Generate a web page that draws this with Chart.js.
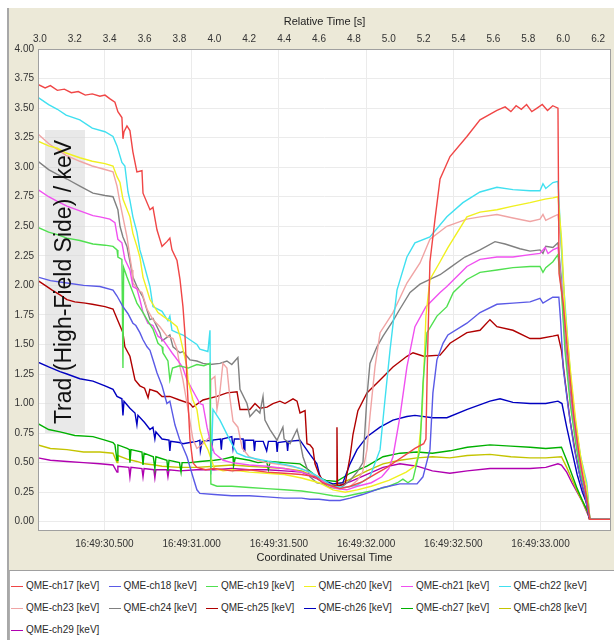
<!DOCTYPE html>
<html>
<head>
<meta charset="utf-8">
<script src="https://cdn.jsdelivr.net/npm/chart.js@4.4.1/dist/chart.umd.min.js"></script>
<style>
body { margin: 0; background: #fff; width: 614px; height: 640px; overflow: hidden; font-family: "Liberation Sans", Arial, sans-serif; }
#panel { position: absolute; left: 7px; top: 8px; width: 607px; height: 632px; background: #ece9d8; border-left: 2px solid #a8a8a8; box-sizing: border-box; }
#chart { position: absolute; left: 9px; top: 8px; }
#legend { position: absolute; left: 9px; top: 570px; width: 605px; height: 70px; background: #fff; border-top: 1px solid #a0a0a0; border-left: 1px solid #b0b0b0; box-sizing: border-box; }
.item { position: absolute; font-size: 10px; color: #2a2a2a; white-space: nowrap; line-height: 14px; }
.item i { display: inline-block; width: 12px; height: 0; border-top: 1px solid; vertical-align: middle; margin-right: 3px; }
</style>
</head>
<body>
<div id="panel"></div>
<canvas id="chart" width="605" height="560"></canvas>
<div id="legend"></div>
<script>
// axes
const relTicks = [3.0, 3.2, 3.4, 3.6, 3.8, 4.0, 4.2, 4.4, 4.6, 4.8, 5.0, 5.2, 5.4, 5.6, 5.8, 6.0, 6.2];
const utcSeconds = [30.5, 31.0, 31.5, 32.0, 32.5, 33.0];
const utcPrefix = '16:49:';
const UTC_OFFSET = 27.13; // UTC seconds = relative time + offset
const yTicks = [0, 0.25, 0.5, 0.75, 1, 1.25, 1.5, 1.75, 2, 2.25, 2.5, 2.75, 3, 3.25, 3.5, 3.75, 4];
const X_MIN = 2.989, X_MAX = 6.274;

const seriesNames = ['QME-ch17 [keV]', 'QME-ch18 [keV]', 'QME-ch19 [keV]', 'QME-ch20 [keV]', 'QME-ch21 [keV]', 'QME-ch22 [keV]',
  'QME-ch23 [keV]', 'QME-ch24 [keV]', 'QME-ch25 [keV]', 'QME-ch26 [keV]', 'QME-ch27 [keV]', 'QME-ch28 [keV]', 'QME-ch29 [keV]'];
const seriesColors = ['#f04646', '#5a5ae6', '#50e050', '#f0f020', '#f050f0', '#40e0f0',
  '#f0a4a4', '#808080', '#b00000', '#0000c0', '#00b000', '#c4c400', '#b000b0'];

// [relative time s, Trad keV]
const ch17 = [[2.989,3.70],[3.03,3.67],[3.06,3.69],[3.10,3.65],[3.14,3.66],[3.18,3.63],[3.22,3.64],[3.26,3.61],[3.30,3.62],[3.344,3.60],[3.373,3.61],[3.40,3.58],[3.43,3.55],[3.447,3.47],[3.47,3.42],[3.476,3.24],[3.482,3.30],[3.499,3.35],[3.516,3.31],[3.533,3.13],[3.556,2.96],[3.585,2.97],[3.591,2.78],[3.631,2.64],[3.648,2.66],[3.671,2.47],[3.70,2.33],[3.728,2.37],[3.745,2.40],[3.757,2.30],[3.786,2.21],[3.803,2.05],[3.82,1.82],[3.831,1.60],[3.843,1.20],[3.86,0.70],[3.877,0.50],[3.90,0.46],[3.95,0.44],[4.00,0.45],[4.10,0.43],[4.20,0.44],[4.30,0.42],[4.40,0.41],[4.50,0.40],[4.58,0.38],[4.62,0.33],[4.68,0.30],[4.72,0.28],[4.78,0.30],[4.85,0.34],[4.92,0.40],[4.99,0.46],[5.05,0.52],[5.10,0.57],[5.15,0.62],[5.20,0.66],[5.213,0.70],[5.222,1.40],[5.236,2.20],[5.265,2.56],[5.294,2.90],[5.351,3.09],[5.448,3.26],[5.523,3.40],[5.620,3.48],[5.667,3.51],[5.70,3.47],[5.73,3.52],[5.76,3.49],[5.79,3.53],[5.82,3.47],[5.85,3.50],[5.88,3.53],[5.91,3.48],[5.94,3.52],[5.97,3.50],[5.976,2.10],[6.00,1.85],[6.03,1.35],[6.06,0.90],[6.09,0.58],[6.12,0.32],[6.14,0.15],[6.153,0.02],[6.274,0.02]];
const ch18 = [[2.989,2.07],[3.06,2.04],[3.155,2.02],[3.25,2.00],[3.344,1.99],[3.419,1.96],[3.442,1.91],[3.476,1.82],[3.505,1.76],[3.533,1.68],[3.55,1.66],[3.573,1.60],[3.591,1.54],[3.614,1.48],[3.631,1.45],[3.648,1.37],[3.671,1.26],[3.70,1.15],[3.728,1.00],[3.745,1.02],[3.774,0.82],[3.80,0.70],[3.843,0.55],[3.877,0.38],[3.90,0.27],[3.917,0.24],[4.00,0.23],[4.10,0.22],[4.20,0.22],[4.30,0.21],[4.40,0.20],[4.50,0.20],[4.548,0.19],[4.60,0.19],[4.66,0.18],[4.72,0.18],[4.778,0.20],[4.85,0.23],[4.967,0.29],[5.064,0.32],[5.162,0.32],[5.196,0.38],[5.236,0.61],[5.253,1.09],[5.276,1.37],[5.311,1.51],[5.339,1.58],[5.448,1.68],[5.523,1.77],[5.62,1.84],[5.712,1.85],[5.81,1.86],[5.867,1.89],[5.884,1.85],[5.94,1.90],[5.975,1.90],[5.985,1.70],[6.00,1.30],[6.03,0.95],[6.06,0.65],[6.09,0.42],[6.125,0.22],[6.147,0.05],[6.153,0.02],[6.274,0.02]];
const ch19 = [[2.989,2.49],[3.05,2.45],[3.10,2.43],[3.155,2.40],[3.229,2.38],[3.304,2.35],[3.373,2.34],[3.419,2.33],[3.442,2.30],[3.447,2.24],[3.47,2.22],[3.476,1.30],[3.48,2.15],[3.499,2.07],[3.533,1.94],[3.556,1.85],[3.591,1.77],[3.614,1.71],[3.648,1.63],[3.677,1.51],[3.70,1.48],[3.705,1.43],[3.734,1.36],[3.745,1.20],[3.76,1.30],[3.80,1.32],[3.85,1.30],[3.90,1.33],[3.94,1.32],[3.975,1.34],[3.98,0.32],[4.015,0.30],[4.10,0.30],[4.20,0.29],[4.30,0.28],[4.40,0.27],[4.50,0.26],[4.60,0.24],[4.68,0.22],[4.74,0.21],[4.80,0.23],[4.90,0.26],[5.00,0.30],[5.05,0.33],[5.081,0.36],[5.11,0.33],[5.139,0.36],[5.179,0.61],[5.196,1.17],[5.219,1.60],[5.276,1.74],[5.333,1.82],[5.37,1.94],[5.448,2.05],[5.523,2.11],[5.62,2.13],[5.712,2.15],[5.81,2.16],[5.867,2.16],[5.884,2.11],[5.90,2.15],[5.941,2.20],[5.97,2.26],[5.99,1.95],[6.01,1.45],[6.04,1.00],[6.07,0.68],[6.10,0.40],[6.135,0.22],[6.153,0.02],[6.274,0.02]];
const ch20 = [[2.989,3.22],[3.05,3.18],[3.10,3.16],[3.15,3.12],[3.229,3.08],[3.30,3.05],[3.373,3.03],[3.419,3.01],[3.442,2.92],[3.459,2.87],[3.476,2.73],[3.516,2.58],[3.533,2.44],[3.556,2.33],[3.573,2.24],[3.591,2.07],[3.631,1.88],[3.677,1.77],[3.705,1.74],[3.745,1.70],[3.786,1.65],[3.803,1.57],[3.82,1.46],[3.843,1.31],[3.849,1.20],[3.877,1.03],[3.90,0.95],[3.917,0.78],[3.935,0.69],[3.963,0.61],[4.00,0.45],[4.05,0.43],[4.10,0.44],[4.20,0.42],[4.30,0.41],[4.40,0.40],[4.50,0.37],[4.60,0.33],[4.68,0.27],[4.75,0.25],[4.82,0.27],[4.90,0.30],[5.00,0.35],[5.10,0.42],[5.15,0.47],[5.167,0.55],[5.19,0.89],[5.202,1.31],[5.213,1.74],[5.236,2.05],[5.294,2.20],[5.339,2.32],[5.448,2.58],[5.523,2.62],[5.62,2.64],[5.712,2.67],[5.81,2.70],[5.896,2.73],[5.941,2.74],[5.97,2.75],[5.99,2.40],[6.01,1.80],[6.04,1.30],[6.07,0.88],[6.10,0.55],[6.135,0.30],[6.153,0.02],[6.274,0.02]];
const ch21 = [[2.989,2.81],[3.05,2.75],[3.10,2.71],[3.155,2.67],[3.229,2.63],[3.304,2.59],[3.344,2.58],[3.401,2.56],[3.43,2.53],[3.447,2.39],[3.47,2.36],[3.487,2.22],[3.516,2.13],[3.533,1.99],[3.556,1.97],[3.573,1.88],[3.591,1.77],[3.619,1.68],[3.648,1.66],[3.677,1.57],[3.705,1.54],[3.734,1.48],[3.757,1.43],[3.803,1.34],[3.82,1.30],[3.843,1.20],[3.88,1.10],[3.917,1.00],[3.935,0.99],[3.958,0.80],[3.975,0.69],[4.00,0.58],[4.05,0.52],[4.10,0.50],[4.20,0.48],[4.30,0.47],[4.40,0.45],[4.50,0.42],[4.58,0.38],[4.64,0.32],[4.70,0.28],[4.76,0.27],[4.82,0.30],[4.90,0.33],[4.96,0.38],[5.00,0.45],[5.024,0.55],[5.064,0.89],[5.104,1.31],[5.15,1.65],[5.213,1.82],[5.294,1.94],[5.333,1.99],[5.448,2.16],[5.523,2.22],[5.62,2.24],[5.712,2.24],[5.81,2.26],[5.867,2.27],[5.896,2.32],[5.913,2.27],[5.941,2.30],[5.97,2.32],[5.99,2.00],[6.01,1.50],[6.04,1.05],[6.07,0.72],[6.10,0.43],[6.135,0.24],[6.153,0.02],[6.274,0.02]];
const ch22 = [[2.989,3.59],[3.05,3.53],[3.10,3.49],[3.15,3.44],[3.229,3.40],[3.30,3.33],[3.373,3.30],[3.419,3.26],[3.442,3.18],[3.47,3.04],[3.487,3.01],[3.505,2.79],[3.516,2.72],[3.533,2.58],[3.556,2.45],[3.573,2.30],[3.585,2.24],[3.631,1.99],[3.648,1.82],[3.70,1.78],[3.734,1.70],[3.745,1.74],[3.757,1.62],[3.786,1.60],[3.82,1.58],[3.86,1.54],[3.90,1.50],[3.917,1.46],[3.963,1.44],[3.975,1.62],[3.98,0.40],[3.992,0.95],[4.032,0.86],[4.089,0.69],[4.13,0.58],[4.18,0.55],[4.25,0.53],[4.35,0.50],[4.45,0.47],[4.55,0.42],[4.62,0.36],[4.68,0.30],[4.75,0.29],[4.82,0.31],[4.892,0.38],[4.95,0.61],[4.978,1.03],[5.007,1.45],[5.047,1.96],[5.104,2.24],[5.15,2.36],[5.236,2.41],[5.333,2.58],[5.425,2.70],[5.523,2.79],[5.62,2.83],[5.712,2.81],[5.81,2.80],[5.867,2.80],[5.884,2.86],[5.90,2.82],[5.941,2.87],[5.97,2.88],[5.976,2.70],[6.00,2.05],[6.03,1.45],[6.06,0.92],[6.10,0.55],[6.135,0.33],[6.153,0.02],[6.274,0.02]];
const ch23 = [[2.989,3.28],[3.05,3.20],[3.10,3.15],[3.15,3.10],[3.229,3.05],[3.30,3.01],[3.373,2.98],[3.419,2.96],[3.442,2.84],[3.459,2.70],[3.499,2.41],[3.516,2.24],[3.528,2.13],[3.533,2.02],[3.562,1.96],[3.585,1.94],[3.614,1.80],[3.648,1.71],[3.688,1.65],[3.728,1.57],[3.763,1.55],[3.786,1.46],[3.803,1.31],[3.82,1.20],[3.849,0.95],[3.877,0.70],[3.90,0.62],[3.935,0.66],[3.975,0.72],[3.98,1.20],[4.003,1.23],[4.015,0.95],[4.032,1.10],[4.049,1.34],[4.072,1.30],[4.089,1.05],[4.107,0.85],[4.135,0.80],[4.16,0.62],[4.20,0.55],[4.25,0.52],[4.30,0.50],[4.40,0.48],[4.50,0.45],[4.60,0.38],[4.66,0.30],[4.72,0.28],[4.78,0.30],[4.82,0.35],[4.85,0.42],[4.875,0.61],[4.892,0.89],[4.921,1.31],[4.95,1.60],[5.024,1.77],[5.104,2.02],[5.179,2.19],[5.236,2.39],[5.333,2.50],[5.448,2.56],[5.523,2.58],[5.62,2.60],[5.712,2.57],[5.81,2.54],[5.867,2.56],[5.884,2.60],[5.90,2.55],[5.94,2.58],[5.97,2.60],[5.99,2.30],[6.01,1.75],[6.04,1.25],[6.07,0.85],[6.10,0.52],[6.135,0.30],[6.153,0.02],[6.274,0.02]];
const ch24 = [[2.989,3.05],[3.05,2.98],[3.10,2.94],[3.155,2.90],[3.229,2.84],[3.304,2.78],[3.373,2.76],[3.419,2.75],[3.447,2.64],[3.459,2.50],[3.476,2.41],[3.499,2.33],[3.533,2.07],[3.556,1.99],[3.591,1.90],[3.631,1.71],[3.648,1.72],[3.688,1.60],[3.70,1.53],[3.728,1.56],[3.745,1.58],[3.763,1.48],[3.803,1.43],[3.82,1.44],[3.86,1.37],[3.90,1.36],[3.935,1.34],[3.975,1.33],[4.032,1.34],[4.072,1.36],[4.10,1.33],[4.135,1.39],[4.147,1.12],[4.187,1.00],[4.204,0.89],[4.24,0.95],[4.261,0.92],[4.279,1.06],[4.29,0.86],[4.319,0.78],[4.359,0.69],[4.393,0.80],[4.40,0.70],[4.434,0.66],[4.474,0.78],[4.491,0.68],[4.508,0.55],[4.548,0.38],[4.588,0.33],[4.623,0.32],[4.663,0.29],[4.72,0.28],[4.778,0.35],[4.818,0.42],[4.852,0.50],[4.875,1.06],[4.892,1.34],[4.932,1.48],[4.967,1.57],[5.024,1.70],[5.064,1.80],[5.122,1.94],[5.179,2.01],[5.236,2.05],[5.294,2.09],[5.351,2.15],[5.436,2.24],[5.523,2.30],[5.609,2.37],[5.667,2.35],[5.752,2.31],[5.81,2.29],[5.867,2.30],[5.884,2.27],[5.90,2.33],[5.941,2.32],[5.97,2.36],[5.99,2.05],[6.01,1.55],[6.04,1.10],[6.07,0.75],[6.10,0.45],[6.135,0.25],[6.153,0.02],[6.274,0.02]];
const ch25 = [[2.989,2.04],[3.03,2.00],[3.07,1.96],[3.115,1.92],[3.155,1.88],[3.20,1.86],[3.26,1.85],[3.30,1.84],[3.373,1.82],[3.419,1.80],[3.447,1.70],[3.476,1.60],[3.487,1.48],[3.516,1.40],[3.545,1.20],[3.573,1.15],[3.60,1.13],[3.62,1.05],[3.63,1.12],[3.671,1.10],[3.70,1.06],[3.745,1.06],[3.80,1.03],[3.86,1.00],[3.877,0.97],[3.935,1.03],[4.015,1.06],[4.072,1.09],[4.13,1.10],[4.147,0.95],[4.204,0.95],[4.233,1.00],[4.261,0.96],[4.302,0.97],[4.336,1.00],[4.376,1.02],[4.405,1.00],[4.451,1.04],[4.474,1.02],[4.491,0.92],[4.52,0.94],[4.531,0.66],[4.548,0.65],[4.565,0.62],[4.577,0.49],[4.60,0.40],[4.634,0.32],[4.68,0.30],[4.70,0.31],[4.703,0.80],[4.706,0.30],[4.75,0.32],[4.778,0.55],[4.795,0.74],[4.823,0.94],[4.875,1.09],[4.95,1.20],[5.024,1.31],[5.104,1.40],[5.139,1.43],[5.20,1.40],[5.294,1.41],[5.351,1.51],[5.448,1.60],[5.523,1.62],[5.58,1.71],[5.62,1.65],[5.712,1.62],[5.81,1.55],[5.867,1.55],[5.94,1.57],[5.97,1.58],[5.99,1.45],[6.01,1.20],[6.04,0.85],[6.07,0.58],[6.10,0.36],[6.13,0.18],[6.15,0.02],[6.274,0.02]];
const ch26 = [[2.989,1.35],[3.05,1.31],[3.115,1.27],[3.155,1.25],[3.229,1.21],[3.304,1.19],[3.373,1.15],[3.419,1.12],[3.442,1.06],[3.47,1.04],[3.476,0.90],[3.482,1.02],[3.516,0.96],[3.545,0.92],[3.556,0.82],[3.562,0.90],[3.60,0.84],[3.631,0.78],[3.648,0.80],[3.659,0.70],[3.665,0.76],[3.70,0.70],[3.74,0.69],[3.745,0.60],[3.75,0.68],[3.80,0.67],[3.82,0.66],[3.86,0.67],[3.90,0.68],[3.917,0.69],[3.92,0.60],[3.93,0.68],[3.98,0.69],[3.985,0.60],[3.99,0.69],[4.035,0.70],[4.04,0.61],[4.045,0.70],[4.10,0.72],[4.107,0.62],[4.115,0.70],[4.165,0.70],[4.17,0.60],[4.175,0.69],[4.225,0.69],[4.23,0.60],[4.235,0.68],[4.28,0.68],[4.30,0.60],[4.31,0.68],[4.355,0.68],[4.36,0.59],[4.365,0.67],[4.415,0.68],[4.42,0.60],[4.425,0.68],[4.491,0.69],[4.548,0.57],[4.588,0.49],[4.606,0.38],[4.623,0.35],[4.68,0.32],[4.737,0.33],[4.778,0.49],[4.818,0.61],[4.875,0.72],[4.95,0.80],[5.024,0.86],[5.104,0.89],[5.15,0.90],[5.25,0.88],[5.333,0.88],[5.45,0.95],[5.58,1.02],[5.638,1.04],[5.712,1.01],[5.81,1.00],[5.90,1.00],[5.97,1.02],[5.993,1.00],[6.02,0.80],[6.05,0.60],[6.08,0.40],[6.11,0.25],[6.136,0.15],[6.147,0.05],[6.153,0.02],[6.274,0.02]];
const ch27 = [[2.989,0.83],[3.05,0.78],[3.115,0.76],[3.20,0.73],[3.304,0.72],[3.373,0.69],[3.419,0.67],[3.43,0.65],[3.442,0.52],[3.447,0.65],[3.50,0.62],[3.513,0.61],[3.516,0.50],[3.522,0.61],[3.585,0.59],[3.591,0.48],[3.597,0.58],[3.65,0.55],[3.659,0.45],[3.665,0.55],[3.728,0.52],[3.734,0.43],[3.74,0.52],[3.80,0.50],[3.809,0.42],[3.815,0.50],[3.86,0.50],[3.917,0.51],[4.00,0.52],[4.05,0.53],[4.107,0.55],[4.11,0.47],[4.12,0.54],[4.20,0.52],[4.25,0.50],[4.30,0.51],[4.31,0.44],[4.32,0.51],[4.40,0.50],[4.491,0.49],[4.53,0.45],[4.588,0.38],[4.64,0.35],[4.70,0.34],[4.778,0.41],[4.875,0.47],[4.967,0.55],[5.064,0.58],[5.162,0.59],[5.25,0.58],[5.351,0.60],[5.45,0.63],[5.58,0.65],[5.70,0.64],[5.81,0.63],[5.90,0.62],[5.99,0.63],[6.02,0.52],[6.05,0.40],[6.08,0.28],[6.11,0.18],[6.136,0.10],[6.153,0.02],[6.274,0.02]];
const ch28 = [[2.989,0.65],[3.06,0.62],[3.155,0.61],[3.25,0.59],[3.344,0.59],[3.419,0.58],[3.442,0.50],[3.447,0.56],[3.50,0.53],[3.556,0.51],[3.60,0.49],[3.659,0.48],[3.70,0.47],[3.80,0.46],[3.90,0.46],[4.00,0.47],[4.10,0.48],[4.20,0.47],[4.30,0.46],[4.40,0.45],[4.50,0.43],[4.58,0.38],[4.64,0.33],[4.70,0.31],[4.78,0.36],[4.875,0.43],[4.967,0.49],[5.064,0.52],[5.162,0.54],[5.25,0.55],[5.35,0.54],[5.45,0.56],[5.58,0.57],[5.70,0.55],[5.81,0.54],[5.90,0.54],[5.99,0.55],[6.02,0.46],[6.05,0.36],[6.08,0.26],[6.11,0.17],[6.136,0.09],[6.153,0.02],[6.274,0.02]];
const ch29 = [[2.989,0.54],[3.06,0.52],[3.155,0.51],[3.25,0.50],[3.344,0.49],[3.419,0.48],[3.442,0.42],[3.447,0.47],[3.51,0.46],[3.516,0.38],[3.522,0.46],[3.585,0.45],[3.591,0.38],[3.597,0.45],[3.653,0.44],[3.659,0.37],[3.665,0.44],[3.728,0.44],[3.734,0.38],[3.74,0.44],[3.80,0.43],[3.90,0.44],[4.00,0.44],[4.10,0.45],[4.20,0.44],[4.30,0.44],[4.40,0.43],[4.50,0.42],[4.58,0.37],[4.64,0.32],[4.70,0.30],[4.78,0.34],[4.875,0.40],[4.967,0.46],[5.064,0.49],[5.162,0.47],[5.25,0.43],[5.35,0.41],[5.45,0.43],[5.58,0.45],[5.70,0.45],[5.81,0.45],[5.90,0.46],[5.97,0.49],[5.99,0.48],[6.02,0.42],[6.05,0.33],[6.08,0.25],[6.11,0.17],[6.136,0.08],[6.153,0.02],[6.274,0.02]];

const allSeries = [ch17, ch18, ch19, ch20, ch21, ch22, ch23, ch24, ch25, ch26, ch27, ch28, ch29];

const FONT = '"Liberation Sans", Arial, sans-serif';

const datasets = allSeries.map((pts, i) => ({
    label: seriesNames[i],
    data: pts.map(p => ({ x: p[0], y: p[1] })),
    borderColor: seriesColors[i],
    borderWidth: 1.4,
    pointRadius: 0,
    tension: 0,
    fill: false
}));

// beige panel, white plot area, plot frame
const bgPlugin = {
    id: 'bg',
    beforeDraw(chart) {
        const { ctx, chartArea: a } = chart;
        ctx.save();
        ctx.fillStyle = '#ece9d8';
        ctx.fillRect(0, 0, chart.width, chart.height);
        ctx.fillStyle = '#ffffff';
        ctx.fillRect(a.left, a.top, a.right - a.left, a.bottom - a.top);
        ctx.restore();
    },
    afterDraw(chart) {
        const { ctx, chartArea: a } = chart;
        ctx.save();
        ctx.strokeStyle = '#a0a0a0';
        ctx.lineWidth = 1;
        ctx.strokeRect(a.left + 0.5, a.top + 0.5, a.right - a.left - 1, a.bottom - a.top);
        ctx.restore();
    }
};

// big y title sitting inside the plot on a grey box
const yTitlePlugin = {
    id: 'yTitle',
    beforeDatasetsDraw(chart) {
        const { ctx, chartArea: a } = chart;
        ctx.save();
        ctx.fillStyle = 'rgba(215,215,215,0.55)';
        ctx.fillRect(a.left + 7, a.top + 81, 40, 303);
        ctx.restore();
    },
    afterDatasetsDraw(chart) {
        const { ctx, chartArea: a } = chart;
        ctx.save();
        ctx.translate(a.left + 27, a.top + 233);
        ctx.rotate(-Math.PI / 2);
        ctx.fillStyle = '#111';
        ctx.font = '23px ' + FONT;
        ctx.textAlign = 'center';
        ctx.textBaseline = 'middle';
        ctx.fillText('Trad (High-Field Side) / keV', 0, 0);
        ctx.restore();
    }
};

new Chart(document.getElementById('chart'), {
    type: 'line',
    data: { datasets: datasets },
    options: {
        responsive: false,
        animation: false,
        devicePixelRatio: 1,
        layout: { padding: { left: 0, right: 3, top: 0, bottom: 0 } },
        plugins: { legend: { display: false }, tooltip: { enabled: false } },
        scales: {
            x: {
                type: 'linear', position: 'bottom', min: X_MIN, max: X_MAX,
                afterBuildTicks: s => { s.ticks = utcSeconds.map(u => ({ value: u - UTC_OFFSET })); },
                afterFit: s => { s.height = 38; },
                ticks: {
                    callback: v => utcPrefix + (v + UTC_OFFSET).toFixed(3),
                    font: { family: FONT, size: 10 }, color: '#333', padding: 8, maxRotation: 0, autoSkip: false
                },
                grid: { color: '#ebebeb', drawTicks: false },
                border: { display: false },
                title: { display: true, text: 'Coordinated Universal Time', font: { family: FONT, size: 11 }, color: '#222', padding: { top: 0, bottom: 3 } }
            },
            x2: {
                type: 'linear', position: 'top', min: X_MIN, max: X_MAX,
                afterBuildTicks: s => { s.ticks = relTicks.map(v => ({ value: v })); },
                afterFit: s => { s.height = 41; },
                ticks: {
                    callback: v => v.toFixed(1),
                    font: { family: FONT, size: 10 }, color: '#333', padding: 4, maxRotation: 0, autoSkip: false
                },
                grid: { display: false, drawTicks: false },
                border: { display: false },
                title: { display: true, text: 'Relative Time [s]', font: { family: FONT, size: 11 }, color: '#222', padding: { top: 7, bottom: 0 } }
            },
            y: {
                min: -0.07, max: 4.0,
                afterBuildTicks: s => { s.ticks = yTicks.map(v => ({ value: v })); },
                afterFit: s => { s.width = 29; },
                ticks: {
                    callback: v => v.toFixed(2),
                    font: { family: FONT, size: 10 }, color: '#333', padding: 4
                },
                grid: { color: '#ebebeb', drawTicks: false },
                border: { display: false }
            }
        }
    },
    plugins: [bgPlugin, yTitlePlugin]
});

// legend: 6 columns, left aligned
const legend = document.getElementById('legend');
seriesNames.forEach((name, i) => {
    const el = document.createElement('div');
    el.className = 'item';
    el.style.left = (1 + 97.5 * (i % 6)) + 'px';
    el.style.top = (8 + 22 * Math.floor(i / 6)) + 'px';
    el.innerHTML = '<i style="border-color:' + seriesColors[i] + '"></i>' + name;
    legend.appendChild(el);
});
</script>
</body>
</html>
